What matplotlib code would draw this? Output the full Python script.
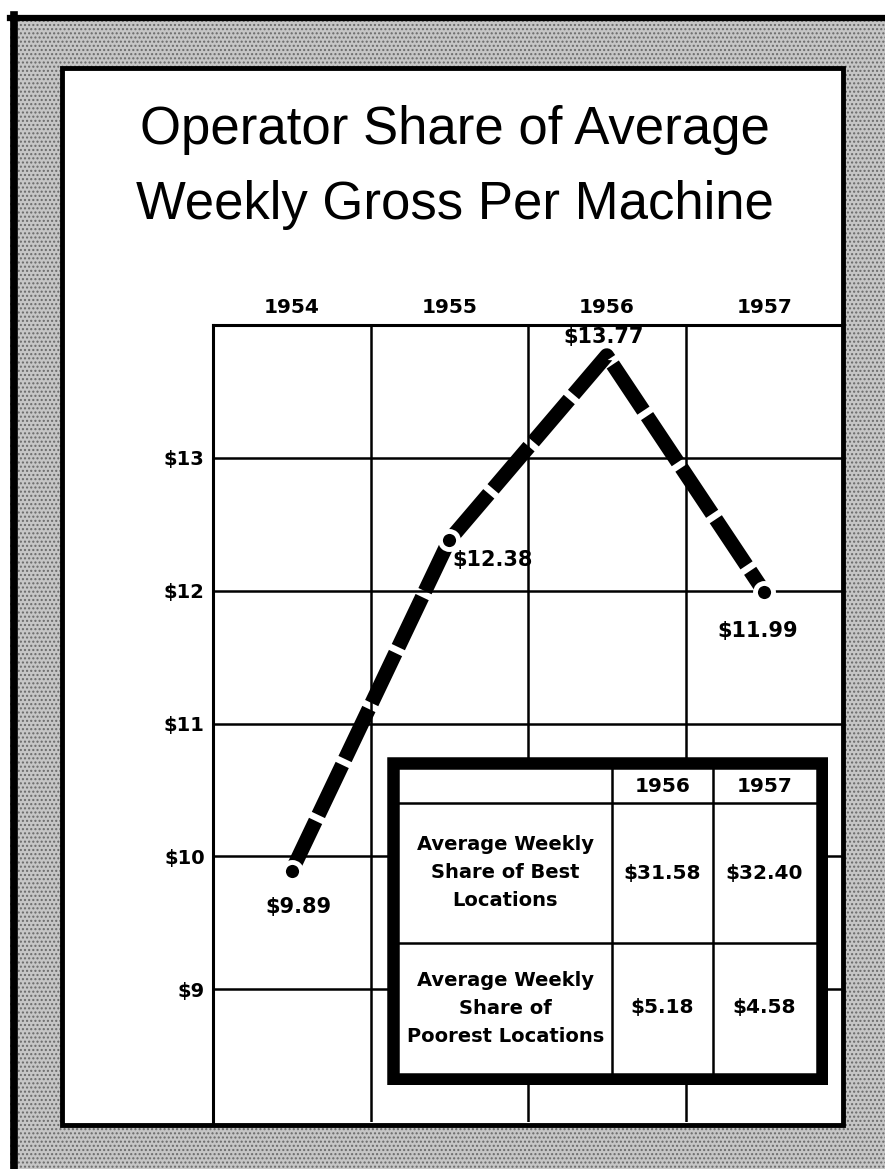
"""
Operator share of average weekly gross per machine, 1954-1957.
Recreated from an old newspaper graphic (dashed line on a box grid + small inset table).
"""

import matplotlib
matplotlib.use("Agg")
import matplotlib.pyplot as plt
from matplotlib.patches import Rectangle
from matplotlib.lines import Line2D

plt.rcParams["text.parse_math"] = False

W, H = 885, 1169

# ── data ──
years = ["1954", "1955", "1956", "1957"]
share = [9.89, 12.38, 13.77, 11.99]
share_labels = ["$9.89", "$12.38", "$13.77", "$11.99"]
y_ticks = [9, 10, 11, 12, 13]
y_tick_labels = ["$9", "$10", "$11", "$12", "$13"]

table_years = ["1956", "1957"]
table_rows = ["Average Weekly\nShare of Best\nLocations",
              "Average Weekly\nShare of\nPoorest Locations"]
best_share = ["$31.58", "$32.40"]
poorest_share = ["$5.18", "$4.58"]

# label offsets (points) from each data point
label_offsets = [(5, -26), (31, -14), (-2, 13), (-5, -28)]

LABEL_FONT = dict(family="DejaVu Sans", weight="bold")


def fx(px):
    return px / W


def fy(py):
    return 1 - py / H


def main():
    fig = plt.figure(figsize=(W / 100, H / 100), dpi=100)
    fig.patch.set_facecolor("white")

    # stippled newsprint surround + black frame (below the axes)
    fig.patches.append(Rectangle((fx(10), 0), 1 - fx(10), fy(15), transform=fig.transFigure,
                                 facecolor="#c6c6c6", edgecolor="#6a6a6a", hatch="....",
                                 linewidth=0, zorder=-3))
    fig.lines.append(Line2D([fx(10), 1], [fy(18), fy(18)], transform=fig.transFigure,
                            color="black", lw=4.5, zorder=-2))
    fig.lines.append(Line2D([fx(14), fx(14)], [fy(15), 0], transform=fig.transFigure,
                            color="black", lw=5.5, zorder=-2))
    fig.patches.append(Rectangle((fx(62), fy(1125)), fx(843) - fx(62), fy(68) - fy(1125),
                                 transform=fig.transFigure, facecolor="white",
                                 edgecolor="black", linewidth=3.5, zorder=-2))

    fig.text(fx(455), fy(130), "Operator Share of Average", ha="center", va="center",
             fontsize=38, family="Liberation Sans", color="black")
    fig.text(fx(455), fy(205), "Weekly Gross Per Machine", ha="center", va="center",
             fontsize=38, family="Liberation Sans", color="black")

    # ── main grid chart ──
    ax = fig.add_axes([fx(213), fy(1122), fx(843) - fx(213), fy(325) - fy(1122)])
    ax.set_facecolor("none")
    ax.set_xlim(0, 4)
    ax.set_ylim(8, 14)
    xpos = [i + 0.5 for i in range(len(years))]

    for v in y_ticks:
        ax.axhline(v, color="black", lw=1.8, zorder=1)
    for v in range(1, len(years)):
        ax.axvline(v, color="black", lw=1.8, zorder=1)
    for side in ["left", "top"]:
        ax.spines[side].set_linewidth(2.2)
    ax.spines["right"].set_visible(False)
    ax.spines["bottom"].set_visible(False)

    ax.xaxis.tick_top()
    ax.set_xticks(xpos, years)
    ax.set_yticks(y_ticks, y_tick_labels)
    ax.tick_params(length=0)
    ax.tick_params(axis="x", pad=6)
    ax.tick_params(axis="y", pad=6)
    for lbl in ax.get_xticklabels():
        lbl.set_fontsize(14.5)
        lbl.set_fontweight("bold")
    for lbl in ax.get_yticklabels():
        lbl.set_fontsize(14)
        lbl.set_fontweight("bold")

    ax.plot(xpos, share, color="black", lw=10.5, linestyle=(0, (3.8, 0.45)),
            dash_capstyle="butt", solid_joinstyle="miter", zorder=3)
    peak = max(share)
    mx = [x for x, v in zip(xpos, share) if v != peak]
    my = [v for v in share if v != peak]
    ax.plot(mx, my, "o", color="black", ms=13, mec="white", mew=3.5, zorder=4)

    for x, v, txt, off in zip(xpos, share, share_labels, label_offsets):
        ax.annotate(txt, (x, v), xytext=off, textcoords="offset points",
                    ha="center", va="center", fontsize=15, zorder=5, **LABEL_FONT)

    # ── inset table ──
    tw, th = 441, 328
    tax = fig.add_axes([fx(387), fy(1085), fx(828) - fx(387), fy(757) - fy(1085)])
    tax.set_xlim(0, tw)
    tax.set_ylim(th, 0)
    tax.axis("off")
    tax.add_patch(Rectangle((6, 6), tw - 12, th - 12, facecolor="white",
                            edgecolor="black", linewidth=9, zorder=1))
    col_x = [12, 225, 326, tw - 12]
    row_y = [12, 46, 186, th - 12]
    for y in row_y[1:-1]:
        tax.plot([col_x[0], col_x[-1]], [y, y], color="black", lw=1.8, zorder=2)
    for x in col_x[1:-1]:
        tax.plot([x, x], [row_y[0], row_y[-1]], color="black", lw=1.8, zorder=2)

    col_c = [(col_x[i] + col_x[i + 1]) / 2 for i in range(3)]
    row_c = [(row_y[i] + row_y[i + 1]) / 2 for i in range(3)]
    for c, yr in zip(col_c[1:], table_years):
        tax.text(c, row_c[0] + 1, yr, ha="center", va="center", fontsize=14.5, **LABEL_FONT)
    for r, (lab, vals) in enumerate(zip(table_rows, [best_share, poorest_share])):
        tax.text(col_c[0], row_c[r + 1], lab, ha="center", va="center", fontsize=14,
                 linespacing=1.6, **LABEL_FONT)
        for c, val in zip(col_c[1:], vals):
            tax.text(c, row_c[r + 1], val, ha="center", va="center", fontsize=14.5,
                     **LABEL_FONT)

    fig.savefig("out.png", dpi=100)
    plt.close(fig)


if __name__ == "__main__":
    main()
